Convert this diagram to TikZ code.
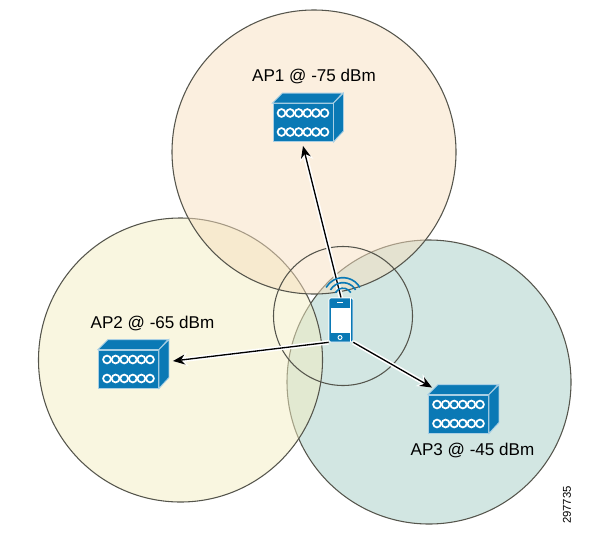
\documentclass[tikz,border=0pt]{standalone}
\usepackage{fontspec}
\setmainfont{Liberation Sans}
\usetikzlibrary{arrows.meta, positioning, calc}
\definecolor{apblue}{HTML}{0A79B5}
\definecolor{apedge}{HTML}{A9CFE4}
\definecolor{cellone}{HTML}{F7DFBF}
\definecolor{celltwo}{HTML}{F3EDC1}
\definecolor{cellthree}{HTML}{A5CEC6}
\definecolor{ringgray}{HTML}{55554C}
\tikzset{
  cell/.style={circle, draw=ringgray, fill=#1, fill opacity=0.5, minimum size=284*0.75pt, inner sep=0pt, line width=0.8pt},
  lbl/.style={font=\fontsize{12.8}{15}\selectfont, text=black, inner sep=0pt},
  halo/.style={-{Stealth[length=11pt, width=10pt]}, white, line width=3.4pt},
  arr/.style={-{Stealth[length=9pt, width=7.5pt]}, black, line width=1pt},
  apbox/.pic={
    \node[draw=apedge, fill=apblue, line width=0.7pt, minimum width=60*0.75pt, minimum height=38*0.75pt, inner sep=0pt] (-body) at (0,0) {};
    \draw[apedge, fill=apblue, line width=0.7pt] (-body.north west) -- ++(10,-10) -- ++(60,0) -- (-body.north east) -- cycle;
    \draw[apedge, fill=apblue, line width=0.7pt] (-body.north east) -- ++(10,-10) -- ++(0,38) -- (-body.south east) -- cycle;
    \foreach \row in {-9.5,9.5}
      \foreach \k in {-21.5,-12.9,-4.3,4.3,12.9,21.5}
        \draw[white, line width=1.3pt] (\k,\row) circle[radius=3.9];
  },
}
\begin{document}
\begin{tikzpicture}[x=0.75pt, y=-0.75pt]
  \useasboundingbox (0,0) rectangle (595,539);

  \node[cell=cellthree] (cell3) at (429,382) {};
  \node[cell=celltwo] (cell2) at (180.5,360) {};
  \node[cell=cellone] (cell1) at (314,152) {};
  \node[circle, draw=ringgray, line width=0.8pt, minimum size=139*0.75pt, inner sep=0pt] (zone) at (343,316) {};

  \pic (ap1) at (303,122.5) {apbox};
  \pic (ap2) at (128.5,369) {apbox};
  \pic (ap3) at (458.5,414) {apbox};

  \node[lbl] (lbl1) at (314,76) {AP1 @ -75 dBm};
  \node[lbl] (lbl2) at (152.5,323) {AP2 @ -65 dBm};
  \node[lbl] (lbl3) at (472.5,450) {AP3 @ -45 dBm};
  \node[font=\fontsize{8.5}{10}\selectfont, rotate=90, inner sep=0pt] (tag) at (567,505) {297735};

  \coordinate (tip1) at ($(ap1-body.south)+(0,4)$);
  \coordinate (tip2) at ($(ap2-body.east)+(14,-8)$);
  \coordinate (tip3) at ($(ap3-body.north west)+(4,-7)$);

  % phone
  \node[draw=white, fill=apblue, rounded corners=1.5pt, line width=0.5pt, minimum width=24*0.75pt, minimum height=44*0.75pt, inner sep=0pt] (phone) at (341,320) {};

  \draw[halo] (phone.north) -- (tip1);
  \draw[halo] (phone.south west) -- (tip2);
  \draw[halo] (phone.south east) -- (tip3);
  \draw[arr] (phone.north) -- (tip1);
  \draw[arr] (phone.south west) -- (tip2);
  \draw[arr] (phone.south east) -- (tip3);

  \node[draw=white, fill=apblue, rounded corners=1.5pt, line width=0.5pt, minimum width=24*0.75pt, minimum height=44*0.75pt, inner sep=0pt] (phonetop) at (phone.center) {};
  \node[fill=white, minimum width=19*0.75pt, minimum height=25*0.75pt, inner sep=0pt] (screen) at (340,320.5) {};
  \node[fill=white, minimum width=1*0.75pt, minimum height=44*0.75pt, inner sep=0pt] (edge) at (350.5,320) {};
  \node[circle, draw=white, line width=0.7pt, minimum size=4*0.75pt, inner sep=0pt] (homekey) at (340,337.5) {};
  \node[fill=white, minimum width=6*0.75pt, minimum height=1.2*0.75pt, inner sep=0pt] (speaker) at (340,302.5) {};
  \foreach \r in {9,14.5,19.5}
    \draw[apblue, line width=1.2pt] ($(phone.north)+(2,-0.5)$) ++(-30:\r) arc[start angle=-30, end angle=-150, radius=\r];
\end{tikzpicture}
\end{document}
